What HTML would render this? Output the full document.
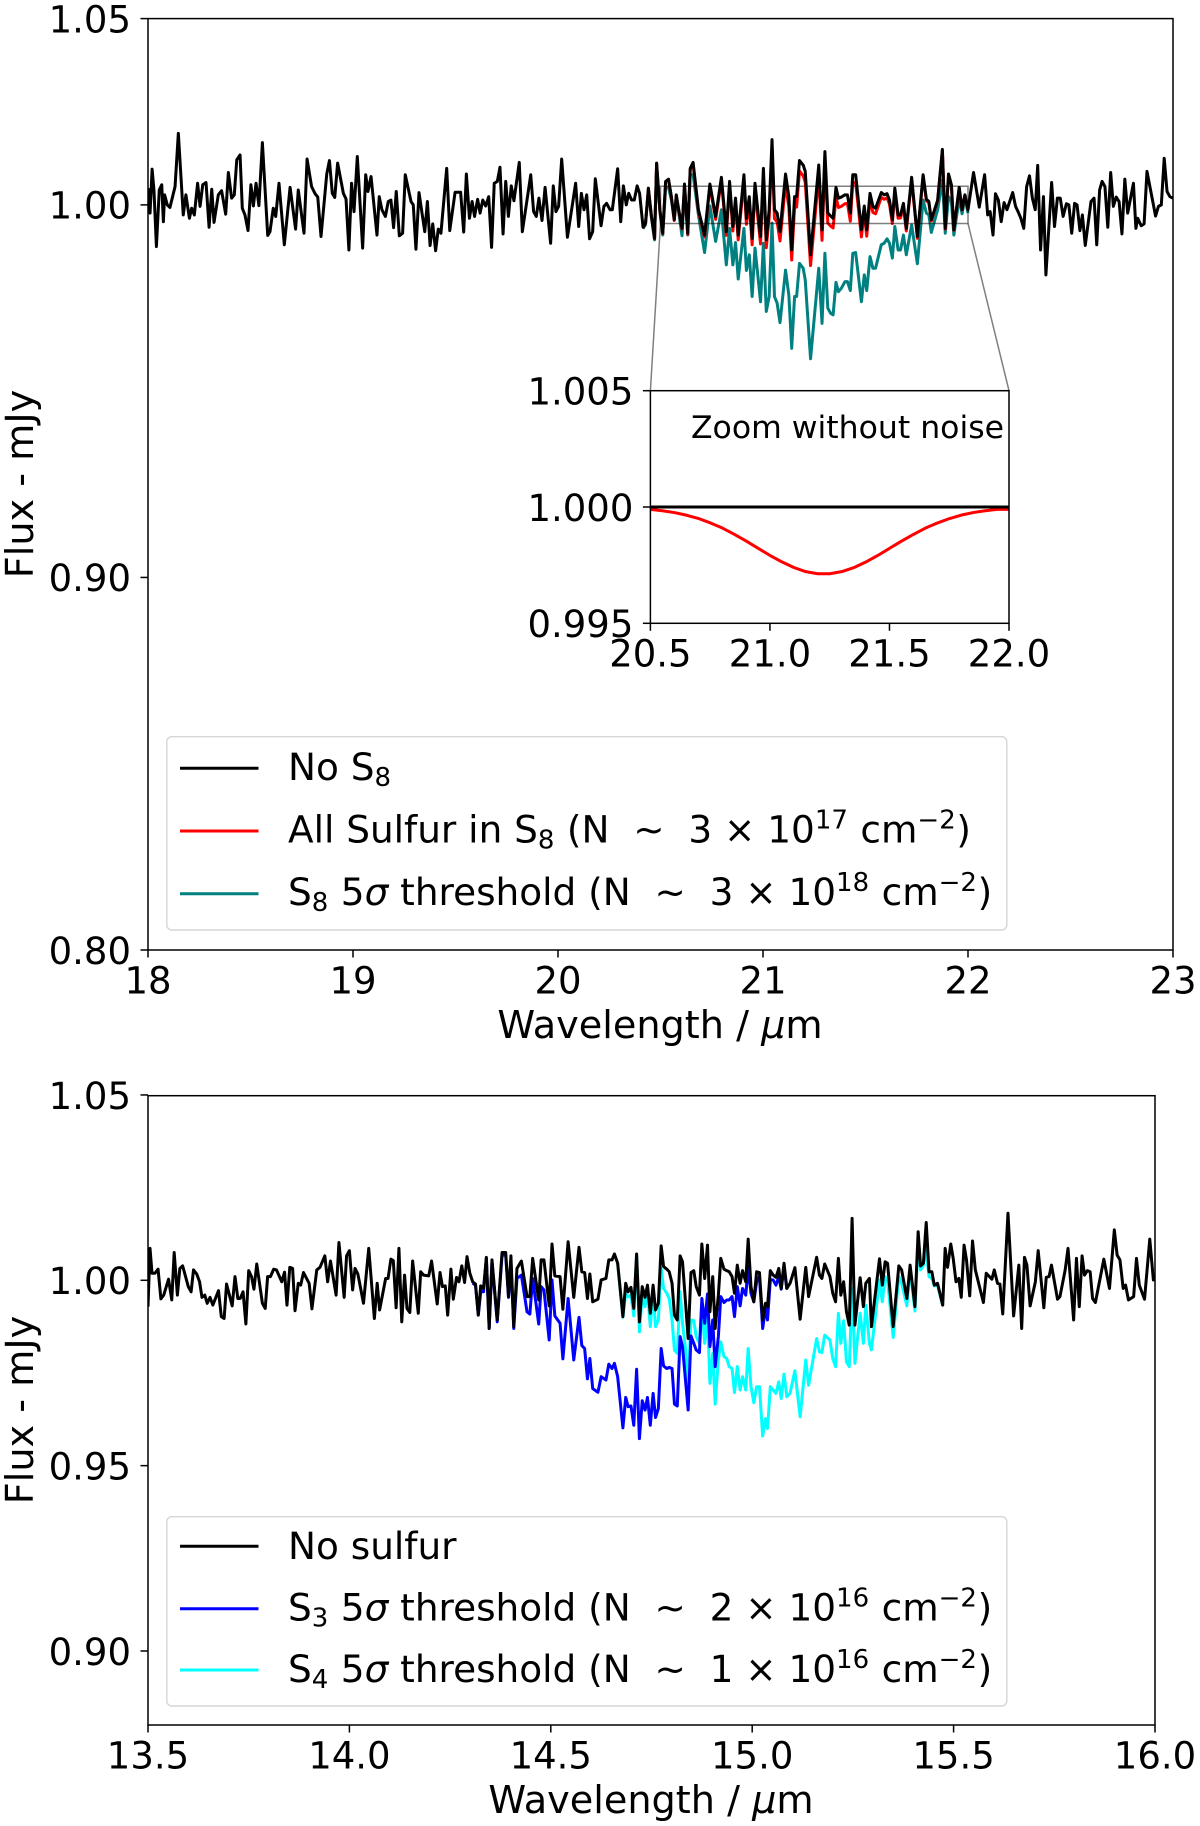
<!DOCTYPE html>
<html lang="en">
<head>
<meta charset="utf-8">
<title>Flux spectra with sulfur absorption features</title>
<style>
html,body{margin:0;padding:0;background:#fff;}
svg{display:block;font-family:"DejaVu Sans","Liberation Sans",sans-serif;fill:#000;}
</style>
</head>
<body>
<svg id="figure" width="1200" height="1826" viewBox="0 0 1200 1826" xmlns="http://www.w3.org/2000/svg">
<defs>
<clipPath id="clip-top"><rect x="148" y="18.6" width="1025" height="931.4"/></clipPath>
<clipPath id="clip-bottom"><rect x="148" y="1095.7" width="1007" height="629.3"/></clipPath>
<clipPath id="clip-inset"><rect x="650.4" y="390.7" width="358.6" height="232.6"/></clipPath>
</defs>
<rect x="0" y="0" width="1200" height="1826" fill="#fff"/>
<g id="top-panel"></g>
<g id="bottom-panel"></g>
</svg>
<script>
/* ---------- top panel data (flux = 1 + offset / 1000, mJy) ---------- */
const topXTicks = [18, 19, 20, 21, 22, 23];
const topXTickLabels = ["18", "19", "20", "21", "22", "23"];
const topYTicks = [1.05, 1.00, 0.90, 0.80];
const topYTickLabels = ["1.05", "1.00", "0.90", "0.80"];
const insetXTicks = [20.5, 21.0, 21.5, 22.0];
const insetXTickLabels = ["20.5", "21.0", "21.5", "22.0"];
const insetYTicks = [1.005, 1.000, 0.995];
const insetYTickLabels = ["1.005", "1.000", "0.995"];

const topWavelengths = [
18.002,18.010,18.020,18.029,18.041,18.055,18.067,18.075,18.081,18.094,18.107,18.132,18.148,18.172,18.185,18.202,18.213,18.226,18.242,18.254,18.267,18.283,18.298,18.311,18.322,18.343,18.359,18.379,18.392,18.408,18.421,18.433,18.449,18.460,18.473,18.488,18.502,18.514,18.527,18.541,18.558,18.584,18.595,18.611,18.623,18.639,18.665,18.693,18.720,18.733,18.761,18.776,18.798,18.815,18.828,18.844,18.872,18.885,18.899,18.911,18.925,18.953,18.966,18.980,18.993,
19.005,19.021,19.047,19.062,19.073,19.088,19.117,19.128,19.141,19.158,19.172,19.185,19.198,19.211,19.226,19.242,19.255,19.283,19.294,19.307,19.322,19.350,19.363,19.376,19.389,19.403,19.416,19.429,19.457,19.472,19.498,19.525,19.540,19.553,19.568,19.581,19.593,19.608,19.620,19.633,19.647,19.662,19.676,19.689,19.704,19.717,19.732,19.745,19.758,19.772,19.785,19.811,19.826,19.867,19.881,19.894,19.907,19.922,19.937,19.964,19.977,19.990,
20.003,20.018,20.046,20.086,20.101,20.114,20.127,20.140,20.154,20.169,20.182,20.210,20.224,20.237,20.254,20.265,20.291,20.306,20.319,20.333,20.345,20.359,20.372,20.386,20.398,
20.415,20.427,20.441,20.455,20.471,20.481,20.497,20.511,20.525,20.539,20.553,20.567,20.577,20.589,20.605,20.617,20.633,20.645,20.659,20.685,20.715,20.741,20.769,20.797,20.821,20.837,20.853,20.866,20.879,20.907,20.919,20.933,20.947,20.961,20.988,
21.002,21.016,21.030,21.044,21.056,21.069,21.083,21.110,21.126,21.140,21.154,21.164,21.178,21.196,21.206,21.232,21.272,21.288,21.302,21.316,21.330,21.342,21.356,21.368,21.382,21.400,21.412,21.426,21.438,21.452,21.480,21.494,21.506,21.522,21.536,21.549,21.577,21.591,21.605,21.617,21.631,21.643,21.659,21.671,21.685,21.699,21.725,21.753,21.781,21.797,21.809,21.821,21.852,21.875,21.889,21.905,21.919,21.931,21.957,21.971,21.985,22.000,
22.027,22.055,22.081,22.096,22.108,22.122,22.134,22.148,22.162,22.176,22.190,22.218,22.232,22.244,22.258,22.272,22.286,22.300,22.314,22.328,22.340,22.354,22.368,22.380,22.408,22.422,22.436,22.450,22.464,22.480,22.492,22.506,22.520,22.532,22.546,22.558,22.572,22.600,22.615,22.628,22.642,22.654,22.668,22.682,22.696,22.709,22.723,22.737,22.751,22.765,22.779,22.807,22.819,22.828,22.845,22.859,22.873,22.915,22.929,22.943,22.957,22.971,22.985,23.000];

const topNoS8 = [
4.5,-2.2,9.6,4.0,-11.2,4.0,5.4,-4.5,2.7,0,-0.7,4.9,19.2,-2.7,2.7,-3.6,-0.9,-2.7,5.8,-0.4,5.4,6.0,-6.0,4.2,-4.7,2.7,3.8,-2.5,8.7,1.8,2.7,12.1,13.4,-0.9,-2.7,-6.9,5.4,-0.3,5.8,-0.2,16.7,-8.2,-7.2,-0.9,-3.1,5.8,-10.7,4.7,-6.5,4.0,-7.6,12.3,4.9,3.0,2.1,-8.5,8.3,11.9,3.1,2.0,11.2,3.1,1.6,-12.1,5.8,
-1.8,13.0,-11.6,8.1,3.6,7.6,-8.1,2.2,-1.3,-3.1,0.9,1.3,-6.1,3.6,-8.3,-7.6,8.1,0.9,0,-11.9,3.3,-7.2,0.9,-10.9,-5.1,-12.3,-6.5,-7.6,9.8,-6.9,3.4,3.4,-7.3,8.3,-3.6,0.9,-3.1,1.5,-2.2,1.3,-0.3,2.2,-11.4,5.8,6.3,10.1,-7.8,6.3,-3.1,5.1,1.1,11.4,-7.2,8.1,-1.8,-3.1,1.8,-4.2,4.7,-10.3,5.1,-1.8,
-0.4,12.3,-8.7,5.8,-5.8,3.1,-1.3,2.7,-9.1,-7.2,7.0,-5.6,-0.4,0.4,-1.3,-1.3,9.7,-4.5,5.1,0,3.1,1.3,1.3,5.1,3.1,
-6.0,-4.9,4.5,-2.7,-9.0,11.2,-1.3,-7.6,6.3,6.9,2.2,-4.0,2.7,-1.3,-6.3,5.6,-7.6,9.8,11.4,-1.3,-8.1,5.6,-3.1,7.4,-7.2,6.3,-5.8,1.8,-8.1,8.1,-3.6,2.2,-9.0,5.8,-8.5,
9.8,-9.4,-1.3,17.5,-1.3,-2.2,-7.2,8.3,2.2,-12.1,2.2,2.2,11.9,10.7,9.0,-13.4,10.7,-6.7,14.3,-2.2,-3.0,-3.6,4.7,1.8,2.1,2.7,2.7,-2.2,8.1,8.1,-6.7,-0.3,-6.7,3.1,-0.4,-0.9,3.3,2.7,3.0,1.3,-4.0,4.5,-2.7,-2.7,0.4,-6.3,7.4,-8.5,8.1,1.5,0.9,-4.0,1.3,14.9,-6.3,8.3,5.4,-6.7,4.7,-1.3,2.7,-1.3,
8.7,-0.6,8.1,-2.7,-1.8,-8.1,3.0,1.3,-4.5,0.6,-1.3,3.3,-0.4,-1.8,-3.6,-6.3,4.9,7.8,1.8,-1.3,10.6,-12.1,2.2,-18.8,6.0,-5.8,1.8,1.8,-3.1,0.3,0,-7.6,0.4,0,-6.9,-2.7,-10.9,0.9,1.8,-10.7,4.0,6.3,4.9,-6.0,8.7,-0.4,2.1,0.9,-7.8,6.9,-2.2,5.8,-6.3,-3.6,-5.6,-5.1,9.0,-3.0,-0.4,0,12.5,3.6,2.2,1.8];

const topFeatureStartWavelength = 20.415;

const topAllSulfur = [
-6.1,-5.0,4.4,-2.8,-9.1,11.1,-1.4,-7.7,6.2,6.8,2.0,-4.2,2.5,-1.5,-6.5,5.3,-7.9,9.5,11.0,-1.8,-8.6,5.0,-3.9,6.5,-8.2,5.2,-7.0,0.5,-9.4,6.6,-5.2,0.5,-10.7,4.0,-10.5,
7.7,-11.5,-3.5,15.2,-3.7,-4.6,-9.7,5.7,-0.5,-14.8,-0.6,-0.6,9.1,7.8,6.1,-16.3,7.9,-9.5,11.5,-4.9,-5.7,-6.2,2.1,-0.7,-0.4,0.3,0.4,-4.4,6.0,6.0,-8.6,-2.1,-8.4,1.5,-2.0,-2.4,2.0,1.5,1.9,0.2,-5.0,3.5,-3.6,-3.5,-0.4,-7.0,6.8,-9.0,7.7,1.1,0.6,-4.3,1.1,14.7,-6.5,8.1,5.2,-6.8,4.6,-1.4,2.6,-1.4];

const topThreshold = [
-6.4,-5.3,4.1,-3.1,-9.4,10.8,
-1.8,-8.1,4.7,4.7,1.3,-4.0,1.3,-2.2,-8.3,4.0,
-8.1,8.1,8.1,-2.7,-12.8,-0.3,-9.8,-1.3,-16.1,-6.3,
-16.1,-10.1,-19.9,-6.3,-17.6,-13.4,-24.6,-11.6,-26.0,-10.3,
-28.6,-24.6,-4.9,-24.6,-26.4,-31.6,-17.5,-24.2,-38.5,-24.6,
-24.6,-15.7,-17.0,-20.1,-41.3,-17.0,-31.8,-13.0,-27.7,-29.1,
-29.5,-20.8,-23.3,-22.4,-20.6,-20.6,-23.0,-13.0,-12.8,-26.0,
-18.8,-23.0,-13.9,-17.0,-17.0,-10.7,-10.3,-9.1,-10.3,-14.3,
-5.8,-12.1,-12.1,-8.1,-13.4,-5.4,-15.8,1.3,-2.2,-2.7,
-7.4,-1.3,6.7,-7.6,2.2,0.9,-8.1,1.8,-2.4,1.8,-2.2];

const insetWavelengths = [20.5,20.55,20.6,20.65,20.7,20.75,20.8,20.85,20.9,20.95,21.0,21.05,21.1,21.15,21.2,21.25,21.3,21.35,21.4,21.45,21.5,21.55,21.6,21.65,21.7,21.75,21.8,21.85,21.9,21.95,22.0];
const insetAllSulfur = [0.99990,0.99984,0.99976,0.99965,0.99951,0.99932,0.99910,0.99883,0.99854,0.99823,0.99792,0.99764,0.99740,0.99722,0.99713,0.99713,0.99722,0.99739,0.99763,0.99791,0.99822,0.99853,0.99882,0.99909,0.99931,0.99950,0.99965,0.99976,0.99984,0.99990,0.99990];
const insetNoNoiseWavelengths = [20.5, 22.0];
const insetNoS8 = [1.0, 1.0];

/* ---------- bottom panel data ---------- */
const bottomXTicks = [13.5, 14.0, 14.5, 15.0, 15.5, 16.0];
const bottomXTickLabels = ["13.5", "14.0", "14.5", "15.0", "15.5", "16.0"];
const bottomYTicks = [1.05, 1.00, 0.95, 0.90];
const bottomYTickLabels = ["1.05", "1.00", "0.95", "0.90"];

const bottomWavelengths = [
13.500,13.505,13.510,13.517,13.525,13.532,13.539,13.551,13.559,13.565,13.573,13.579,13.586,13.600,13.607,13.613,13.621,13.628,13.634,13.641,13.647,13.654,13.661,13.675,13.682,13.689,13.695,13.709,13.716,13.723,13.729,13.736,13.743,13.750,13.757,13.763,13.770,13.784,13.791,13.797,13.804,13.812,13.819,13.832,13.839,13.845,13.852,13.859,13.865,13.873,13.879,13.886,13.900,13.907,13.919,13.927,13.939,13.946,13.953,13.967,13.974,13.987,13.993,
14.000,14.008,14.014,14.021,14.035,14.048,14.062,14.069,14.075,14.090,14.096,14.103,14.109,14.116,14.123,14.130,14.137,14.143,14.150,14.157,14.171,14.177,14.184,14.197,14.204,14.218,14.225,14.231,14.238,14.244,14.252,14.258,14.266,14.272,14.279,14.286,14.292,14.299,
14.306,14.313,14.320,14.326,14.333,14.340,14.347,14.354,14.367,14.379,14.388,14.395,14.401,14.408,14.416,14.427,14.441,14.448,14.455,14.470,14.476,14.483,14.496,14.503,14.510,14.523,14.530,14.543,14.557,14.570,14.577,14.584,14.591,14.597,14.604,14.617,14.625,14.637,14.644,14.652,14.658,
14.666,14.679,14.686,14.692,14.699,14.706,14.713,14.720,14.727,14.734,14.740,14.747,14.754,14.760,14.767,14.774,14.780,14.788,14.794,14.801,14.807,14.814,14.821,14.827,14.834,14.841,14.848,14.855,14.861,14.869,14.875,14.882,14.889,14.895,14.902,14.908,14.916,14.922,14.930,14.937,14.943,14.950,14.956,14.963,14.970,14.976,14.984,14.990,14.997,15.004,15.011,15.018,15.026,15.033,15.038,15.045,15.052,15.059,15.066,15.072,15.079,15.086,
15.094,15.106,15.119,15.133,15.140,15.160,15.167,15.173,15.180,15.193,15.200,15.207,15.214,15.220,15.227,15.234,15.241,15.248,15.255,15.268,15.276,15.282,15.291,15.296,15.316,15.323,15.330,15.336,15.350,15.364,15.371,15.384,15.392,15.404,15.412,15.418,15.425,15.432,15.439,15.446,15.452,15.460,15.473,
15.479,15.485,15.493,15.499,15.506,15.513,15.519,15.526,15.532,15.540,15.547,15.554,15.574,15.581,15.595,15.601,15.609,15.615,15.622,15.635,15.649,15.662,15.669,15.676,15.682,15.690,15.703,15.710,15.724,15.730,15.737,15.743,15.758,15.764,15.777,15.784,15.798,15.805,15.812,15.819,15.825,15.832,15.839,15.845,15.852,15.873,15.887,15.899,15.906,15.913,15.921,15.927,15.934,15.947,15.954,15.961,15.974,15.987,15.996,16.000];

const bottomNoSulfur = [
-7.1,8.6,1.9,1.9,3.0,-5.0,-4.0,0.3,-5.3,7.5,-4.0,3.2,3.9,-1.7,-3.1,2.8,1.7,-0.4,-4.6,-4.0,-6.2,-4.6,-6.7,-2.8,-9.8,-10.3,-1.0,-6.9,1.0,-4.9,-4.9,-3.1,-11.8,2.6,1.0,-2.4,4.4,-6.2,-7.6,1.0,1.0,3.0,2.8,-0.4,2.2,-6.7,3.5,3.2,-8.2,-0.8,-1.3,2.1,-0.8,-7.7,2.8,3.5,6.6,-0.4,5.2,-4.0,10.2,-4.6,6.6,
8.0,-2.6,3.2,1.7,-6.2,8.6,-10.3,-0.8,-8.0,0.5,0.5,5.7,5.3,-7.4,8.6,-11.2,1.4,-7.6,-8.7,5.2,-8.9,2.3,1.4,1.2,5.2,-6.4,2.1,-1.7,-1.5,-9.4,3.0,-5.1,0.8,-0.4,3.9,-0.6,6.4,1.9,
-0.4,-1.0,-9.4,-1.5,-2.2,6.2,-13.0,5.5,-10.7,7.5,7.5,-4.4,6.6,-12.5,3.2,5.2,-4.4,-4.4,5.9,-5.3,5.5,5.5,-6.9,9.8,1.2,1.0,-7.8,10.4,-4.6,8.9,2.3,2.1,-4.9,1.7,-5.8,-5.1,0.1,0.5,5.5,5.5,7.1,
4.6,-9.8,-0.8,-3.1,-1.9,-7.6,7.1,-11.2,-1.7,-4.6,-1.3,-8.9,-1.3,-8.0,-6.2,9.3,3.7,3.0,2.3,-0.8,-9.4,-10.7,6.6,5.0,-5.3,-15.7,2.1,2.6,-1.7,-4.0,9.8,0.5,9.5,-8.5,1.0,-13.0,-4.0,5.9,3.0,2.6,2.3,1.0,-3.5,4.1,-0.8,2.6,-0.4,11.1,-1.7,-5.8,2.3,2.1,-10.7,-6.2,-7.1,2.6,1.4,0.8,3.2,-2.2,4.6,-2.2,
-0.8,3.4,-10.5,3.5,-4.4,6.2,1.4,0.5,4.4,1.0,-3.5,-5.8,5.9,-4.0,-0.4,-8.5,-12.1,16.7,-12.1,0.7,-7.1,-0.8,0.5,-12.5,5.8,-1.3,5.0,4.6,-12.5,3.9,2.8,-4.9,4.1,-7.1,13.1,3.9,4.6,15.6,2.3,2.3,-1.3,-0.8,-6.7,
8.6,3.5,9.8,5.9,-0.4,0.5,-4.6,9.5,5.5,-4.2,10.6,2.8,-6.0,1.9,0.3,2.8,-0.8,-1.0,-9.1,18.1,-9.6,4.1,-13.0,6.2,4.1,-6.9,-0.4,8.0,-7.4,0.8,1.0,4.1,-5.1,-4.4,2.8,8.6,-10.7,5.9,-7.1,6.6,1.4,2.6,2.3,-4.9,-6.0,5.7,-2.2,13.6,6.8,5.5,-2.2,-1.3,-5.3,-4.4,5.9,-1.3,-5.1,11.1,0.1,0.1];

const s3StartWavelength = 14.306;
const s3Threshold = [
-0.8,-1.3,-9.4,-3.1,-3.1,5.9,-13.0,5.0,-11.2,6.8,6.8,-4.6,5.0,-13.0,0.5,1.4,-8.5,-9.1,0.5,-11.8,-1.7,-2.6,-16.1,0.1,-9.6,-11.6,-21.2,-4.9,-21.5,-10.0,-17.6,-18.4,-26.6,-21.1,-29.2,-30.2,-26.0,-26.9,-22.6,-23.8,-22.4,
-26.0,-39.8,-31.6,-34.1,-33.9,-39.1,-24.0,-42.7,-32.5,-35.0,-31.6,-39.1,-30.5,-37.0,-34.6,-18.4,-23.1,-23.8,-23.5,-23.8,-33.4,-33.9,-15.2,-17.9,-26.5,-35.0,-15.0,-17.0,-18.8,-19.5,-4.9,-11.6,-3.7,-17.9,-10.7,-23.3,-15.2,-4.4,-6.0,-5.3,-5.3,-4.4,-9.8,-1.7,-6.9,-2.2,-4.0,3.5,-3.5,-5.8,-0.4,1.0,-13.0,-7.6,-10.7,0.1,0.1,-1.3,1.0,-2.4,3.5,-2.4];

const s4StartWavelength = 14.666;
const s4Threshold = [
4.6,-10.0,-3.5,-4.4,-4.0,-9.6,6.8,-13.9,-4.0,-7.1,-3.1,-12.5,-3.1,-12.5,-10.7,3.2,-2.2,-3.5,-4.9,-10.7,-18.8,-19.7,-3.1,-11.6,-17.9,-27.8,-10.7,-10.9,-15.2,-17.0,-6.2,-17.0,-9.8,-27.8,-19.7,-33.4,-21.5,-16.6,-20.6,-21.1,-23.3,-23.8,-30.3,-23.3,-29.6,-26.0,-29.6,-18.4,-28.7,-33.0,-28.7,-28.7,-42.0,-37.3,-40.0,-28.7,-29.6,-30.5,-27.4,-31.9,-25.3,-31.4,
-30.5,-24.4,-36.8,-21.5,-28.3,-15.7,-19.3,-19.5,-14.8,-16.1,-21.1,-23.3,-8.9,-17.0,-10.9,-22.0,-23.3,-2.2,-22.4,-8.9,-17.0,-6.7,-17.0,-18.8,0.1,-5.8,1.0,0.1,-15.4,1.0,-0.8,-6.9,2.8,-8.3,10.0,2.8,4.1,8.2,1.0,0.5,-1.5,-1.3,-6.9];

/* ---------- helpers ---------- */
const NS = 'http://www.w3.org/2000/svg';
const topPanel = document.getElementById('top-panel');
const bottomPanel = document.getElementById('bottom-panel');
const seriesWidth = 3;

function shape(parent, tag, attrs) {
  const node = document.createElementNS(NS, tag);
  for (const key in attrs) node.setAttribute(key, attrs[key]);
  parent.appendChild(node);
  return node;
}
function linearScale(d0, d1, r0, r1) {
  return v => r0 + (v - d0) * (r1 - r0) / (d1 - d0);
}
function offsetsToFlux(offsets) {
  return offsets.map(o => 1 + o / 1000);
}
function pathFrom(xs, ys, sx, sy) {
  const n = Math.min(xs.length, ys.length);
  let d = '';
  for (let i = 0; i < n; i++) {
    d += (i ? 'L' : 'M') + sx(xs[i]).toFixed(2) + ' ' + sy(ys[i]).toFixed(2);
  }
  return d;
}
function lineAttrs(d, color, clip, width) {
  return {d: d, fill: 'none', stroke: color, 'stroke-width': width, 'stroke-linejoin': 'round', 'clip-path': 'url(#' + clip + ')'};
}
function drawXAxis(parent, ticks, labels, sx, yBottom) {
  ticks.forEach((t, i) => {
    const tick = shape(parent, 'line', {x1: sx(t), x2: sx(t), y1: yBottom, y2: yBottom + 7.5, stroke: '#000', 'stroke-width': 1.5});
    
    
    const label = shape(parent, 'text', {x: sx(t), y: yBottom + 43.3, 'text-anchor': 'middle', 'font-size': 37});
    label.textContent = labels[i];
    
    
  });
}
function drawYAxis(parent, ticks, labels, sy, xLeft) {
  ticks.forEach((t, i) => {
    const tick = shape(parent, 'line', {x1: xLeft - 7.5, x2: xLeft, y1: sy(t), y2: sy(t), stroke: '#000', 'stroke-width': 1.5});
    
    
    const label = shape(parent, 'text', {x: xLeft - 17, y: sy(t) + 13.8, 'text-anchor': 'end', 'font-size': 37});
    label.textContent = labels[i];
    
    
  });
}
function addRich(textNode, runs) {
  runs.forEach(run => {
    const span = shape(textNode, 'tspan', run.attrs || {});
    span.textContent = run.t;
  });
}
function richRuns(parts) {
  const runs = [];
  parts.forEach(p => {
    if (typeof p === 'string') runs.push({t: p, attrs: {dy: 0}});
    else if (p.sub) { runs.push({t: p.sub, attrs: {dy: 6, 'font-size': 26}}); runs.push({t: '\u200a', attrs: {dy: -6, 'font-size': 6}}); }
    else if (p.sup) { runs.push({t: p.sup, attrs: {dy: -14, 'font-size': 26}}); runs.push({t: '\u200a', attrs: {dy: 14, 'font-size': 6}}); }
    else if (p.it) runs.push({t: p.it, attrs: {'font-style': 'italic'}});
  });
  return runs;
}
function xLabel(parent, cx, y) {
  const t = shape(parent, 'text', {x: cx, y: y, 'text-anchor': 'middle', 'font-size': 38.2});
  addRich(t, richRuns(['Wavelength / ', {it: '\u03bc'}, 'm']));
  return t;
}
function yLabel(parent, cy) {
  const t = shape(parent, 'text', {x: 0, y: 0, 'text-anchor': 'middle', 'font-size': 38.2, transform: 'translate(33 ' + cy + ') rotate(-90)'});
  t.textContent = 'Flux - mJy';
  return t;
}
function spineBox(parent, x, y, w, h) {
  return shape(parent, 'rect', {x: x, y: y, width: w, height: h, fill: 'none', stroke: '#000', 'stroke-width': 1.5});
}
function legendBox(parent, x, y, w, h) {
  return shape(parent, 'rect', {x: x, y: y, width: w, height: h, rx: 5, ry: 5, fill: '#fff', 'fill-opacity': 0.8, stroke: '#ccc', 'stroke-opacity': 0.8, 'stroke-width': 1.4});
}
function legendHandle(parent, y, color) {
  return shape(parent, 'line', {x1: 180, x2: 258.5, y1: y, y2: y, stroke: color, 'stroke-width': seriesWidth});
}
function legendText(parent, y, parts) {
  const t = shape(parent, 'text', {x: 288, y: y, 'font-size': 37.4});
  addRich(t, richRuns(parts));
  return t;
}
function startIndex(xs, start) {
  return xs.findIndex(w => w >= start);
}

/* ---------- top panel ---------- */
const topX = linearScale(18, 23, 148, 1173);
const topY = linearScale(0.80, 1.05, 950, 18.6);
const topFeature = startIndex(topWavelengths, topFeatureStartWavelength);

const topTealLine = shape(topPanel, 'path', lineAttrs(pathFrom(topWavelengths.slice(topFeature), offsetsToFlux(topThreshold), topX, topY), '#008080', 'clip-top', seriesWidth));



const topRedLine = shape(topPanel, 'path', lineAttrs(pathFrom(topWavelengths.slice(topFeature), offsetsToFlux(topAllSulfur), topX, topY), '#ff0000', 'clip-top', seriesWidth));



const topBlackLine = shape(topPanel, 'path', lineAttrs(pathFrom(topWavelengths, offsetsToFlux(topNoS8), topX, topY), '#000000', 'clip-top', seriesWidth));



const insetBoundsX = [20.5, 22.0];
const insetBoundsY = [0.995, 1.005];
const zoomRect = shape(topPanel, 'rect', {
  x: topX(insetBoundsX[0]), y: topY(insetBoundsY[1]),
  width: topX(insetBoundsX[1]) - topX(insetBoundsX[0]),
  height: topY(insetBoundsY[0]) - topY(insetBoundsY[1]),
  fill: 'none', stroke: '#000', 'stroke-opacity': 0.5, 'stroke-width': 1.5
});



const insetX = linearScale(20.5, 22.0, 650.4, 1009);
const insetY = linearScale(0.995, 1.005, 623.3, 390.7);

const connectorLeft = shape(topPanel, 'line', {x1: topX(20.5), y1: topY(0.995), x2: insetX(20.5), y2: insetY(1.005), stroke: '#000', 'stroke-opacity': 0.5, 'stroke-width': 1.5});


const connectorRight = shape(topPanel, 'line', {x1: topX(22.0), y1: topY(0.995), x2: insetX(22.0), y2: insetY(1.005), stroke: '#000', 'stroke-opacity': 0.5, 'stroke-width': 1.5});



const topSpines = spineBox(topPanel, 148, 18.6, 1025, 931.4);


drawXAxis(topPanel, topXTicks, topXTickLabels, topX, 950);
drawYAxis(topPanel, topYTicks, topYTickLabels, topY, 148);

const topXTitle = xLabel(topPanel, 660, 1038);


const topYTitle = yLabel(topPanel, 484);



/* inset */
const insetGroup = shape(topPanel, 'g', {});


const insetBg = shape(insetGroup, 'rect', {x: 650.4, y: 390.7, width: 358.6, height: 232.6, fill: '#fff'});


const insetRed = shape(insetGroup, 'path', lineAttrs(pathFrom(insetWavelengths, insetAllSulfur, insetX, insetY), '#ff0000', 'clip-inset', seriesWidth));


const insetBlack = shape(insetGroup, 'path', lineAttrs(pathFrom(insetNoNoiseWavelengths, insetNoS8, insetX, insetY), '#000000', 'clip-inset', seriesWidth));


const insetFrame = spineBox(insetGroup, 650.4, 390.7, 358.6, 232.6);


drawXAxis(insetGroup, insetXTicks, insetXTickLabels, insetX, 623.3);
drawYAxis(insetGroup, insetYTicks, insetYTickLabels, insetY, 650.4);
const insetNote = shape(insetGroup, 'text', {x: 1004, y: 438, 'text-anchor': 'end', 'font-size': 31.5});
insetNote.textContent = 'Zoom without noise';



/* top legend */
const topLegend = shape(topPanel, 'g', {});


const topLegendFrame = legendBox(topLegend, 166.8, 736.7, 840, 193.3);


const tHandle1 = legendHandle(topLegend, 768.3, '#000000');


const tText1 = legendText(topLegend, 780, ['No S', {sub: '8'}]);


const tHandle2 = legendHandle(topLegend, 831, '#ff0000');


const tText2 = legendText(topLegend, 842.5, ['All Sulfur in S', {sub: '8'}, ' (N \u00a0\u223c\u00a0 3 \u00d7 10', {sup: '17'}, ' cm', {sup: '\u22122'}, ')']);


const tHandle3 = legendHandle(topLegend, 893.7, '#008080');


const tText3 = legendText(topLegend, 905, ['S', {sub: '8'}, ' 5', {it: '\u03c3'}, ' threshold (N \u00a0\u223c\u00a0 3 \u00d7 10', {sup: '18'}, ' cm', {sup: '\u22122'}, ')']);



/* ---------- bottom panel ---------- */
const botX = linearScale(13.5, 16.0, 148, 1155);
const botY = linearScale(0.90, 1.00, 1651, 1280.3);
const s3Start = startIndex(bottomWavelengths, s3StartWavelength);
const s4Start = startIndex(bottomWavelengths, s4StartWavelength);

const s4Line = shape(bottomPanel, 'path', lineAttrs(pathFrom(bottomWavelengths.slice(s4Start), offsetsToFlux(s4Threshold), botX, botY), '#00ffff', 'clip-bottom', seriesWidth));


const s3Line = shape(bottomPanel, 'path', lineAttrs(pathFrom(bottomWavelengths.slice(s3Start), offsetsToFlux(s3Threshold), botX, botY), '#0000ff', 'clip-bottom', seriesWidth));


const botBlackLine = shape(bottomPanel, 'path', lineAttrs(pathFrom(bottomWavelengths, offsetsToFlux(bottomNoSulfur), botX, botY), '#000000', 'clip-bottom', seriesWidth));



const botSpines = spineBox(bottomPanel, 148, 1095.7, 1007, 629.3);


drawXAxis(bottomPanel, bottomXTicks, bottomXTickLabels, botX, 1725);
drawYAxis(bottomPanel, bottomYTicks, bottomYTickLabels, botY, 148);

const botXTitle = xLabel(bottomPanel, 651, 1813);


const botYTitle = yLabel(bottomPanel, 1410);



const botLegend = shape(bottomPanel, 'g', {});


const botLegendFrame = legendBox(botLegend, 166.8, 1516.7, 840, 189.3);


const bHandle1 = legendHandle(botLegend, 1546.3, '#000000');


const bText1 = legendText(botLegend, 1559, ['No sulfur']);


const bHandle2 = legendHandle(botLegend, 1608.7, '#0000ff');


const bText2 = legendText(botLegend, 1620.5, ['S', {sub: '3'}, ' 5', {it: '\u03c3'}, ' threshold (N \u00a0\u223c\u00a0 2 \u00d7 10', {sup: '16'}, ' cm', {sup: '\u22122'}, ')']);


const bHandle3 = legendHandle(botLegend, 1670, '#00ffff');


const bText3 = legendText(botLegend, 1682, ['S', {sub: '4'}, ' 5', {it: '\u03c3'}, ' threshold (N \u00a0\u223c\u00a0 1 \u00d7 10', {sup: '16'}, ' cm', {sup: '\u22122'}, ')']);


</script>
</body>
</html>
